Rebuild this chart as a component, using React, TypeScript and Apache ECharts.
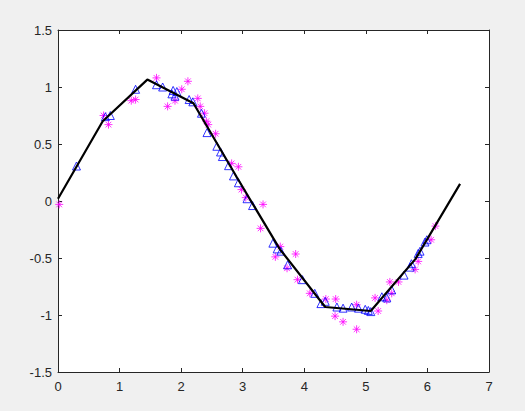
import React, { useEffect, useRef } from "react";
import * as echarts from "echarts";

// Black piecewise-linear curve
const lineX = [0, 0.726, 1.451, 2.2, 2.902, 3.6, 4.34, 5.079, 5.804, 6.53];
const lineY = [0.02, 0.70, 1.065, 0.857, 0.21, -0.42, -0.93, -0.965, -0.51, 0.15];

// Blue triangles
const triX = [0.30, 0.77, 0.85, 1.26, 1.60, 1.70, 1.85, 1.87, 1.90, 1.93, 2.13, 2.19, 2.33, 2.42, 2.58, 2.64, 2.67, 2.77, 2.85, 2.93, 3.07, 3.16, 3.49, 3.56, 3.62, 3.73, 3.97, 4.17, 4.27, 4.34, 4.53, 4.63, 4.77, 4.88, 4.99, 5.04, 5.08, 5.26, 5.34, 5.42, 5.62, 5.72, 5.74, 5.85, 5.88, 5.96, 5.99];
const triY = [0.307, 0.74, 0.75, 0.98, 1.02, 1.00, 0.94, 0.97, 0.92, 0.96, 0.89, 0.87, 0.77, 0.60, 0.48, 0.43, 0.39, 0.31, 0.22, 0.16, 0.02, -0.04, -0.37, -0.42, -0.44, -0.56, -0.69, -0.81, -0.90, -0.88, -0.93, -0.94, -0.93, -0.94, -0.95, -0.96, -0.97, -0.84, -0.85, -0.78, -0.65, -0.58, -0.55, -0.46, -0.44, -0.36, -0.34];

// Magenta asterisks
const starX = [0.02, 0.74, 0.82, 1.19, 1.26, 1.60, 1.78, 1.90, 2.01, 2.11, 2.27, 2.31, 2.38, 2.41, 2.44, 2.56, 2.82, 2.93, 2.98, 3.05, 3.33, 3.29, 3.61, 3.53, 3.86, 3.72, 3.89, 4.09, 4.35, 4.51, 4.50, 4.63, 4.85, 4.85, 5.15, 5.20, 5.34, 5.39, 5.42, 5.53, 5.80, 5.85, 6.06, 6.13];
const starY = [-0.03, 0.75, 0.67, 0.88, 0.89, 1.08, 0.83, 0.88, 0.98, 1.05, 0.90, 0.83, 0.77, 0.70, 0.67, 0.59, 0.33, 0.30, 0.10, 0.03, -0.03, -0.24, -0.40, -0.49, -0.465, -0.59, -0.69, -0.81, -0.86, -0.86, -1.01, -1.06, -0.91, -1.125, -0.85, -0.965, -0.87, -0.71, -0.81, -0.71, -0.60, -0.53, -0.34, -0.22];

const xTicks = { min: 0, max: 7, interval: 1 };
const yTicks = { min: -1.5, max: 1.5, interval: 0.5 };

const pair = (xs: number[], ys: number[]) => xs.map((x, i) => [x, ys[i]]);

const asteriskPath =
  "path://M0,-10L0,10M-10,0L10,0M-7.07,-7.07L7.07,7.07M-7.07,7.07L7.07,-7.07";

export default function App() {
  const ref = useRef<HTMLDivElement>(null);
  useEffect(() => {
    if (!ref.current) return;
    const chart = echarts.init(ref.current, undefined, { renderer: "svg" });
    const axisColor = "#262626";
    const font = "'Liberation Sans', Arial, sans-serif";
    const baseX = {
      type: "value" as const,
      ...xTicks,
      splitLine: { show: false },
      axisLine: { show: true, onZero: false, lineStyle: { color: axisColor, width: 1 } },
      axisTick: { show: true, inside: true, length: 4, lineStyle: { color: axisColor } },
    };
    const baseY = {
      type: "value" as const,
      ...yTicks,
      splitLine: { show: false },
      axisLine: { show: true, onZero: false, lineStyle: { color: axisColor, width: 1 } },
      axisTick: { show: true, inside: true, length: 4, lineStyle: { color: axisColor } },
    };
    chart.setOption({
      animation: false,
      backgroundColor: "#f0f0f0",
      grid: {
        left: 58,
        right: 36,
        top: 30,
        bottom: 39,
        show: true,
        backgroundColor: "#ffffff",
        borderWidth: 0,
      },
      xAxis: [
        {
          ...baseX,
          position: "bottom",
          axisLabel: { show: true, color: axisColor, fontSize: 13, fontFamily: font, margin: 8 },
        },
        { ...baseX, position: "top", axisLabel: { show: false } },
      ],
      yAxis: [
        {
          ...baseY,
          position: "left",
          axisLabel: { show: true, color: axisColor, fontSize: 13, fontFamily: font, margin: 6 },
        },
        { ...baseY, position: "right", axisLabel: { show: false } },
      ],
      series: [
        {
          type: "scatter",
          data: pair(starX, starY),
          symbol: asteriskPath,
          symbolSize: 8,
          itemStyle: { color: "transparent", borderColor: "#ff00ff", borderWidth: 1 },
          z: 2,
        },
        {
          type: "scatter",
          data: pair(triX, triY),
          symbol: "triangle",
          symbolSize: 8,
          itemStyle: { color: "transparent", borderColor: "#0000ff", borderWidth: 1 },
          z: 3,
        },
        {
          type: "line",
          data: pair(lineX, lineY),
          showSymbol: false,
          symbol: "none",
          lineStyle: { color: "#000000", width: 2.2 },
          z: 4,
        },
      ],
    });
    return () => chart.dispose();
  }, []);
  return (
    <div
      ref={ref}
      style={{ position: "absolute", left: 0, top: 0, width: 525, height: 411 }}
    />
  );
}
